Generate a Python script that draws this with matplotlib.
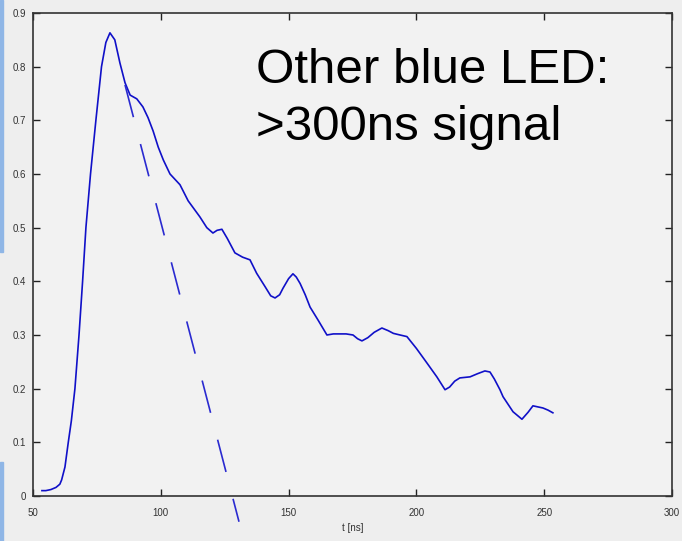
import matplotlib
matplotlib.use('Agg')
import matplotlib.pyplot as plt
from matplotlib.patches import Rectangle

# Measured LED pulse (sampled off the scope trace)
t_ns = [53.5, 55, 57, 59, 60.5, 61.2, 62.5, 63.8, 65, 66.4, 68, 69.4, 70.7, 72.5,
        74.6, 76.8, 78.5, 80.1, 82, 84, 86, 88, 90.6, 93, 95, 97, 99, 101,
        103.6, 107.5, 110.7, 113, 115.3, 118, 120.4, 122, 123.9, 126, 129, 132,
        134.9, 137.5, 140.8, 143, 144.7, 146.5, 147.8, 150, 151.7, 153, 154.5,
        156.5, 158.4, 161.5, 165, 167.5, 170, 172.5, 175.2, 177, 178.7, 181,
        183.5, 186.5, 189, 191, 193.6, 196.3, 200, 204.1, 208, 211.2, 213, 215,
        217, 221, 224, 226.8, 228.8, 230.5, 232.7, 233.9, 237.8, 241.3, 243.7,
        245.6, 249.5, 251.5, 253.4]
signal = [0.010, 0.010, 0.012, 0.016, 0.022, 0.030, 0.054, 0.100, 0.140, 0.200,
          0.300, 0.400, 0.500, 0.600, 0.700, 0.800, 0.845, 0.863,
          0.850, 0.807, 0.770, 0.747, 0.740, 0.725, 0.705, 0.680, 0.650, 0.626,
          0.600, 0.580, 0.550, 0.535, 0.520, 0.500, 0.490, 0.495, 0.497, 0.480,
          0.453, 0.445, 0.440, 0.415, 0.390, 0.373, 0.369, 0.375, 0.387, 0.405,
          0.414, 0.408, 0.396, 0.375, 0.352, 0.328, 0.300, 0.302, 0.302, 0.302,
          0.300, 0.293, 0.289, 0.295, 0.305, 0.313, 0.308, 0.303, 0.300, 0.297,
          0.275, 0.248, 0.222, 0.198, 0.203, 0.214, 0.220, 0.222, 0.228, 0.233,
          0.231, 0.218, 0.198, 0.185, 0.157, 0.143, 0.156, 0.168, 0.164, 0.160,
          0.155]

# expected fast decay (dashed guide)
fast_t = [86, 130.6]
fast_v = [0.766, -0.048]

xticks = [50, 100, 150, 200, 250, 300]
yticks = [0, 0.1, 0.2, 0.3, 0.4, 0.5, 0.6, 0.7, 0.8, 0.9]
ytick_labels = ['0', '0.1', '0.2', '0.3', '0.4', '0.5', '0.6', '0.7', '0.8', '0.9']

note_lines = ['Other blue LED:', '>300ns signal']

plt.rcParams['font.family'] = ['Liberation Sans', 'DejaVu Sans']
plt.rcParams['lines.scale_dashes'] = False

fig = plt.figure(figsize=(6.82, 5.41), dpi=100, facecolor='#eeeeee')
ax = fig.add_axes([0.0484, 0.0832, 0.9369, 0.8928])
ax.set_facecolor('#f2f2f2')

# thin blue strip on the left edge
fig.patches.append(Rectangle((0, 1 - 252 / 541), 3 / 682, 252 / 541,
                             transform=fig.transFigure, color='#8fb6e6', zorder=0))
fig.patches.append(Rectangle((0, 0), 3 / 682, 79 / 541,
                             transform=fig.transFigure, color='#8fb6e6', zorder=0))

ax.plot(t_ns, signal, color='#1010c8', linewidth=1.2)
ax.plot(fast_t, fast_v, color='#2a2ad0', linewidth=1.2,
        dashes=(24, 20), clip_on=False)

ax.set_xlim(50, 300)
ax.set_ylim(0, 0.9)
ax.set_xticks(xticks)
ax.set_yticks(yticks)
ax.set_yticklabels(ytick_labels)
ax.tick_params(direction='in', length=5, width=1, colors='#222222',
               labelsize=7, labelcolor='#333333', top=True, right=True)
ax.tick_params(axis='x', pad=9)
ax.tick_params(axis='y', pad=5)
for s in ax.spines.values():
    s.set_color('#333333')
    s.set_linewidth(1.2)

ax.set_xlabel('t [ns]', fontsize=7, color='#333333', labelpad=3)

# annotation, one baseline per line
for line, y in zip(note_lines, [0.7695, 0.663]):
    ax.text(137.4, y, line, fontsize=35.5, color='black', va='baseline', ha='left')

fig.savefig('out.png', dpi=100, facecolor=fig.get_facecolor())
